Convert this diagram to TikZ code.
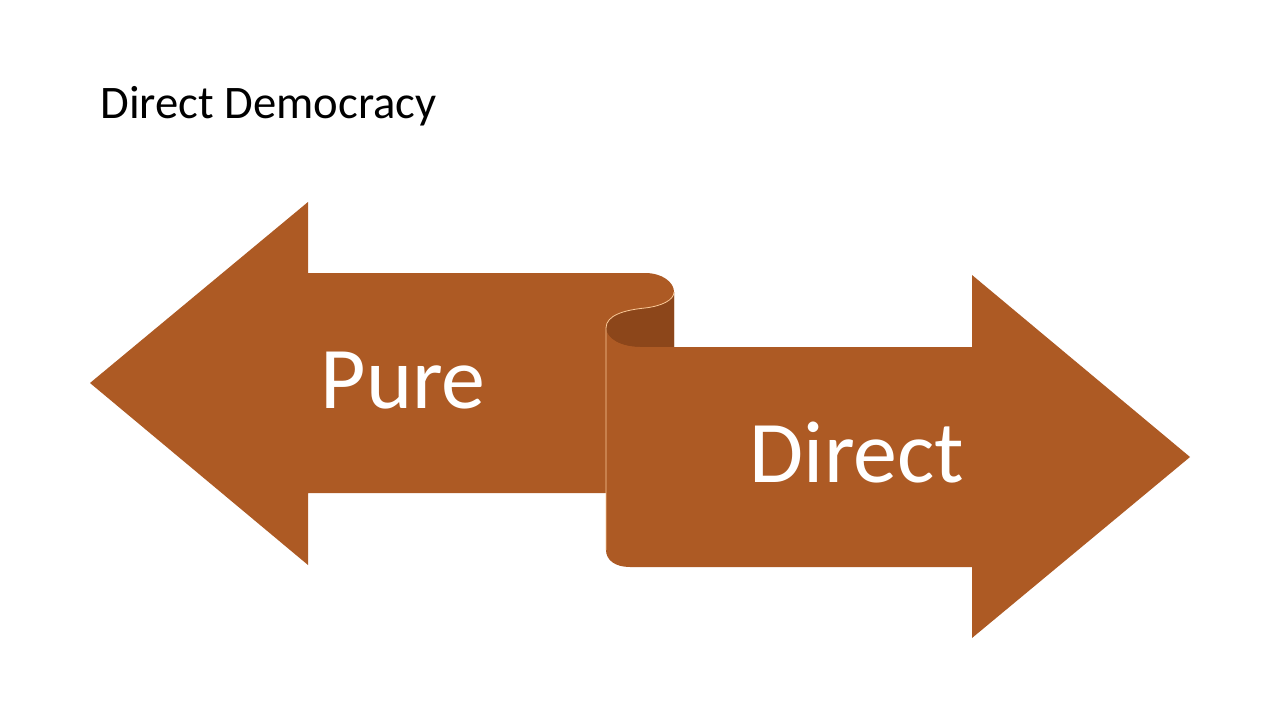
\documentclass[tikz,border=0pt]{standalone}
\usepackage{fontspec}
\setmainfont{Carlito}
\definecolor{rust}{RGB}{173,90,36}
\definecolor{rustdark}{RGB}{140,70,26}
\definecolor{foldline}{RGB}{250,200,150}
\tikzset{every picture/.style={line width=0.75pt}}
\begin{document}
\begin{tikzpicture}[x=0.75pt,y=0.75pt,yscale=-1,xscale=1]
\useasboundingbox (0,0) rectangle (1280,720);

% Title
\node (title) at (100,106) [anchor=west,inner sep=0pt,font=\fontsize{35}{40}\selectfont] {Direct Democracy};

% left arrow
\draw [fill=rust,draw=none] (90,383) -- (308,202) -- (308,273) -- (645,273) .. controls (662,273) and (674,282) .. (674,292) -- (674,347) -- (606,347) -- (606,493) -- (308,493) -- (308,565) -- cycle ;
% inner fold
\draw [fill=rustdark,draw=none] (674,292) -- (674,347) -- (640,347) .. controls (620,347) and (606,338) .. (606,328) .. controls (606,315) and (625,310) .. (645,308) .. controls (662,306) and (674,300) .. (674,292) -- cycle ;
% right arrow
\draw [fill=rust,draw=none] (1190,457) -- (972,275) -- (972,347) -- (640,347) .. controls (620,347) and (606,338) .. (606,328) -- (606,550) .. controls (606,560) and (615,567) .. (630,567) -- (972,567) -- (972,638) -- cycle ;
\draw [foldline,line width=0.6pt] (674,292) .. controls (674,300) and (662,306) .. (645,308) .. controls (625,310) and (606,315) .. (606,328) -- (606,550) ;

% labels
\node (pure) at (403,381) [text=white,font=\fontsize{66}{70}\selectfont] {Pure};
\node (direct) at (857,453) [text=white,font=\fontsize{66}{70}\selectfont] {Direct};
\end{tikzpicture}
\end{document}
